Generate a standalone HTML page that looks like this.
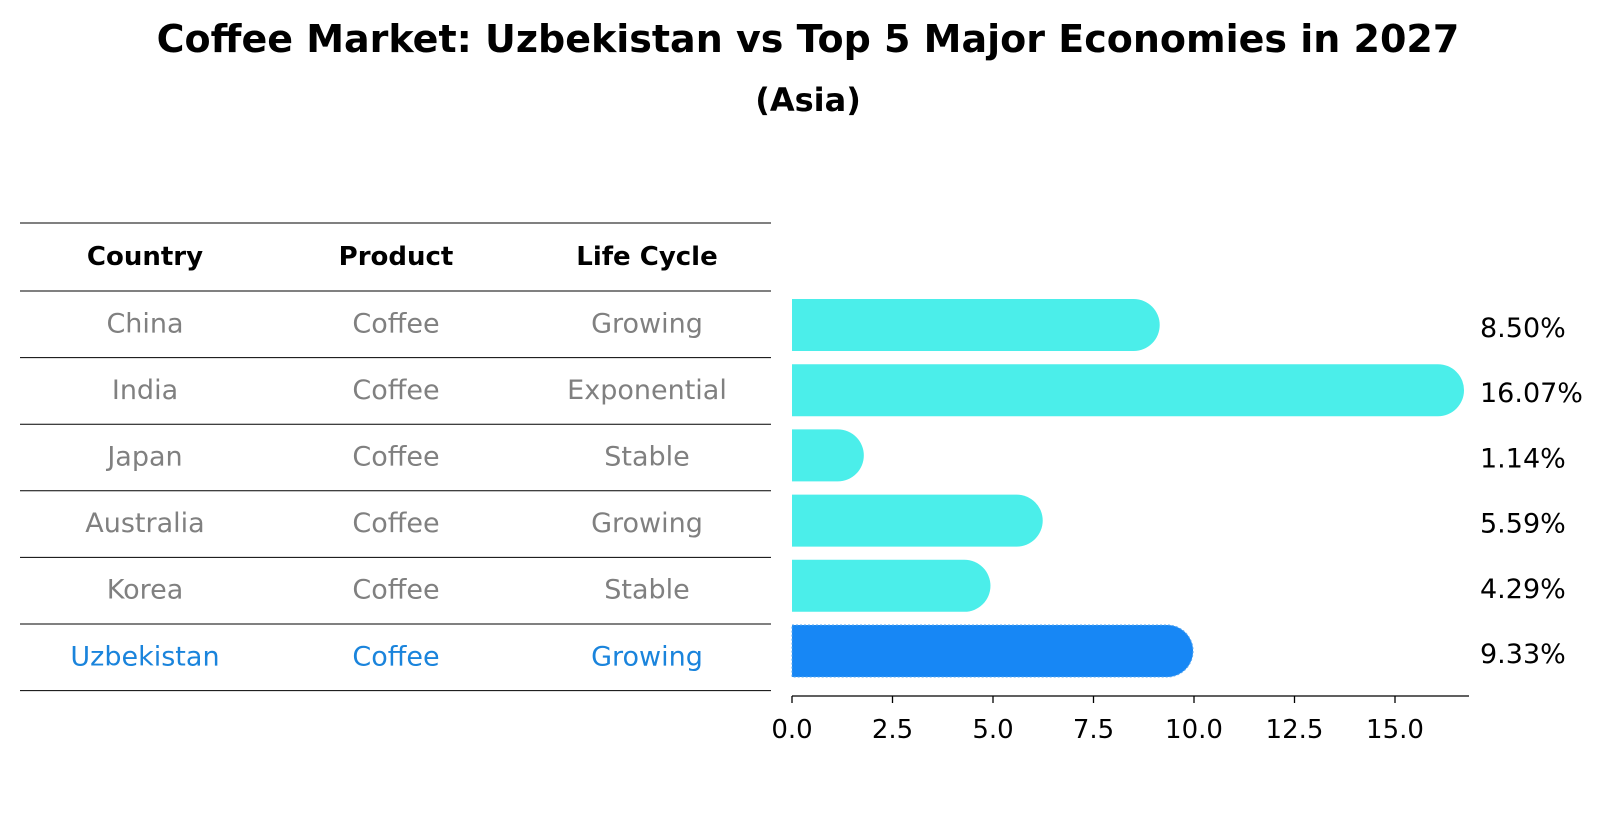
<!DOCTYPE html>
<html><head><meta charset="utf-8"><style>
body{margin:0;background:#fff;font-family:"DejaVu Sans","Liberation Sans",sans-serif;}
svg text{font-family:"DejaVu Sans","Liberation Sans",sans-serif;}
</style></head><body>
<svg id="chart" width="1604" height="823" xmlns="http://www.w3.org/2000/svg">
<text x="808" y="52" text-anchor="middle" font-size="38" font-weight="bold">Coffee Market: Uzbekistan vs Top 5 Major Economies in 2027</text>
<text x="808" y="111" text-anchor="middle" font-size="32" font-weight="bold">(Asia)</text>
<g id="table"></g>
<g id="bars"></g>
</svg>
<script>
const countries=["China","India","Japan","Australia","Korea","Uzbekistan"];
const products=["Coffee","Coffee","Coffee","Coffee","Coffee","Coffee"];
const lifeCycles=["Growing","Exponential","Stable","Growing","Stable","Growing"];
const values=[8.50,16.07,1.14,5.59,4.29,9.33];
const tickValues=[0,2.5,5,7.5,10,12.5,15];
const tickLabels=["0.0","2.5","5.0","7.5","10.0","12.5","15.0"];

const NS="http://www.w3.org/2000/svg";
function mk(tag,attrs,parent,text){const e=document.createElementNS(NS,tag);for(const k in attrs)e.setAttribute(k,attrs[k]);if(text!==undefined)e.textContent=text;parent.appendChild(e);return e;}
const x0=792,pxPerUnit=40.2;
const xScale=v=>x0+v*pxPerUnit;
const rowY=i=>325+i*65.2;
const barH=52;

const tbl=document.getElementById('table');
const lineYs=[223,291];
for(let i=0;i<countries.length;i++)lineYs.push(291+(i+1)*66.6);
lineYs.forEach((y,i)=>{
  const l=mk('line',{x1:20,x2:771,y1:y,y2:y,stroke:'#000','stroke-width':1},tbl);
  
  
});
const colX=[145,396,647];
["Country","Product","Life Cycle"].forEach((h,j)=>{
  const t=mk('text',{x:colX[j],y:265,'text-anchor':'middle','font-size':26,'font-weight':'bold'},tbl,h);
  
  
});
countries.forEach((c,i)=>{
  const y=(lineYs[i+1]+lineYs[i+2])/2+8;
  const col=c==="Uzbekistan"?'#1a84dc':'#808080';
  [c,products[i],lifeCycles[i]].forEach((v,j)=>{
    const t=mk('text',{x:colX[j],y:y,'text-anchor':'middle','font-size':27,fill:col},tbl,v);
    
    
  });
});

const g=document.getElementById('bars');
values.forEach((v,i)=>{
  const yc=rowY(i);
  const isU=countries[i]==="Uzbekistan";
  const xe=xScale(v), r=barH/2;
  const d=`M${x0},${yc-r} L${xe},${yc-r} A${r},${r} 0 0 1 ${xe},${yc+r} L${x0},${yc+r} Z`;
  const p=mk('path',{d:d,fill:isU?'#1787f5':'#4beeea'},g);
  if(isU){p.setAttribute('stroke','#5aa8f0');p.setAttribute('stroke-dasharray','2,2');p.setAttribute('stroke-width','1');}
  
  
  const t=mk('text',{x:1480,y:yc+12,'font-size':27},g,v.toFixed(2)+'%');
  
  
});
const ax=mk('line',{x1:x0,x2:1469,y1:696,y2:696,stroke:'#000','stroke-width':1.3},g);


tickValues.forEach((v,i)=>{
  const x=xScale(v);
  const tk=mk('line',{x1:x,x2:x,y1:696,y2:703,stroke:'#000','stroke-width':1.3},g);
  
  
  const t=mk('text',{x:x,y:738,'text-anchor':'middle','font-size':26},g,tickLabels[i]);
  
  
});
</script>
</body></html>
